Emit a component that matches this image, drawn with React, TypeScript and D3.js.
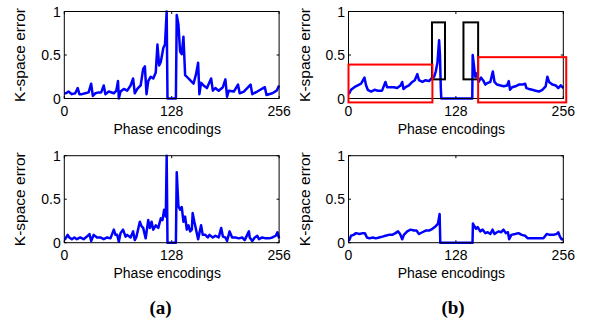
import React from 'react';
import * as d3 from 'd3';

// phase encoding positions and k-space error values
const topAX = [0, 2, 5, 9, 13, 16, 18, 21, 25, 29, 32, 34, 37, 41, 44, 47, 49, 53, 59, 62, 64, 65, 67, 71, 75, 79, 82, 84, 87, 91, 94, 96, 98, 100, 103, 106, 109, 111, 113, 115, 118, 120, 122, 123, 133, 134, 136, 138, 140, 142, 144, 146, 150, 154, 157, 159.5, 161, 163, 166, 170, 175, 177, 180, 184, 189, 192, 194, 196, 202, 207, 209, 214, 222, 224, 230, 239, 241, 248, 253, 256];
const topAY = [0.06, 0.06, 0.08, 0.05, 0.06, 0.12, 0.05, 0.05, 0.06, 0.07, 0.17, 0.03, 0.06, 0.07, 0.07, 0.15, 0.05, 0.08, 0.06, 0.09, 0.2, 0.0, 0.08, 0.11, 0.09, 0.15, 0.23, 0.06, 0.11, 0.15, 0.34, 0.37, 0.05, 0.2, 0.25, 0.23, 0.3, 0.62, 0.38, 0.42, 0.58, 0.62, 1.0, 0.0, 0.0, 0.96, 0.85, 0.54, 0.51, 0.71, 0.27, 0.25, 0.21, 0.17, 0.28, 0.41, 0.05, 0.18, 0.15, 0.12, 0.23, 0.09, 0.12, 0.09, 0.13, 0.22, 0.02, 0.09, 0.08, 0.16, 0.06, 0.08, 0.16, 0.05, 0.08, 0.13, 0.04, 0.06, 0.09, 0.15];

const botAX = [0, 1, 4, 6, 9, 12, 15, 19, 23, 27, 30, 32, 35, 39, 43, 47, 51, 55, 59, 61, 63, 65, 67, 70, 73, 75, 79, 82, 84, 86, 90, 92, 94, 97, 100, 102, 104, 106, 109, 112, 115, 117, 119, 121, 122, 123, 133, 134, 136, 138, 140, 142, 144, 146, 148, 150, 152, 153, 155, 159.5, 161, 163, 165, 168, 171, 173, 177, 180, 184, 187, 189, 192, 194, 197, 200, 204, 208, 212, 215, 220, 221, 224, 227, 230, 232, 236, 240, 244, 248, 252, 254, 256];
const botAY = [0.04, 0.04, 0.09, 0.06, 0.04, 0.06, 0.04, 0.06, 0.04, 0.07, 0.1, 0.02, 0.09, 0.06, 0.06, 0.04, 0.06, 0.05, 0.15, 0.09, 0.09, 0.01, 0.11, 0.15, 0.07, 0.09, 0.06, 0.13, 0.03, 0.07, 0.24, 0.19, 0.17, 0.05, 0.26, 0.17, 0.24, 0.15, 0.2, 0.17, 0.28, 0.26, 0.38, 0.3, 1.0, 0.0, 0.0, 0.81, 0.42, 0.38, 0.41, 0.24, 0.3, 0.15, 0.2, 0.13, 0.15, 0.34, 0.24, 0.04, 0.11, 0.2, 0.09, 0.09, 0.06, 0.09, 0.06, 0.08, 0.06, 0.17, 0.07, 0.06, 0.02, 0.13, 0.06, 0.06, 0.05, 0.06, 0.03, 0.13, 0.06, 0.02, 0.06, 0.08, 0.04, 0.06, 0.05, 0.05, 0.06, 0.08, 0.12, 0.05];

const topBX = [0, 1, 3, 7, 11, 15, 19, 21, 23, 27, 31, 35, 40, 44, 46, 50, 54, 58, 62, 64, 65.5, 68, 72, 76, 79, 82, 84, 88, 92, 96, 99, 102, 104, 106, 108, 109, 110, 110.6, 147.5, 148, 149.5, 151, 153, 155, 158, 161, 163, 166, 169, 172, 174, 177, 181, 185, 189, 191, 192.5, 195, 199, 203, 207, 210.5, 212, 215, 219, 223, 227, 231, 235, 237, 239, 243, 247, 250, 253, 256];
const topBY = [0.06, 0.06, 0.1, 0.13, 0.15, 0.17, 0.24, 0.15, 0.1, 0.08, 0.1, 0.09, 0.09, 0.19, 0.13, 0.13, 0.13, 0.12, 0.15, 0.19, 0.11, 0.13, 0.15, 0.19, 0.21, 0.28, 0.21, 0.19, 0.21, 0.2, 0.23, 0.25, 0.31, 0.41, 0.67, 0.5, 0.12, 0.0, 0.0, 0.5, 0.38, 0.25, 0.29, 0.19, 0.24, 0.2, 0.16, 0.18, 0.19, 0.31, 0.19, 0.16, 0.15, 0.14, 0.15, 0.2, 0.1, 0.13, 0.14, 0.16, 0.16, 0.17, 0.12, 0.11, 0.1, 0.09, 0.08, 0.1, 0.14, 0.25, 0.19, 0.16, 0.15, 0.12, 0.15, 0.12];

const botBX = [0, 1, 3, 6, 9, 13, 17, 19.5, 22, 25, 29, 32.5, 36.5, 40.5, 44, 48, 52, 56, 59, 61.5, 64, 66, 70, 74, 78, 81, 84, 88, 92, 96, 100, 104, 106.7, 108.6, 109.4, 147.8, 148.3, 150, 152, 154, 157, 160, 163, 166, 169, 171.7, 174, 177, 179, 182, 184.7, 187.5, 190, 191.5, 194, 198.6, 202.6, 206.5, 210.5, 213.7, 218.4, 226.4, 232.3, 236.3, 240, 244, 248, 250, 252, 254, 256];
const botBY = [0.02, 0.03, 0.08, 0.09, 0.11, 0.1, 0.11, 0.11, 0.06, 0.05, 0.06, 0.05, 0.06, 0.07, 0.08, 0.09, 0.09, 0.11, 0.13, 0.1, 0.04, 0.09, 0.13, 0.15, 0.14, 0.14, 0.1, 0.12, 0.14, 0.14, 0.16, 0.19, 0.22, 0.33, 0.0, 0.0, 0.22, 0.19, 0.16, 0.18, 0.13, 0.15, 0.11, 0.12, 0.1, 0.15, 0.1, 0.12, 0.13, 0.12, 0.15, 0.11, 0.12, 0.04, 0.09, 0.1, 0.11, 0.09, 0.08, 0.05, 0.05, 0.05, 0.05, 0.1, 0.09, 0.09, 0.1, 0.12, 0.07, 0.04, 0.04];

// highlight boxes in panel (b) top, data units: [x0, x1, y0, y1]
const blackBoxes = [[99.5, 115, 0.22, 0.875], [137, 154.5, 0.22, 0.875]];
const redBoxes = [[0, 100, -0.045, 0.39], [154.5, 259.5, -0.045, 0.475]];

const xTicks = [0, 128, 256];
const yTicks = [0, 0.5, 1];
const yTickLabels = ['0', '0.5', '1'];

const FONT = 'Arial, "Liberation Sans", Helvetica, sans-serif';
const SERIF = '"Times New Roman", "Liberation Serif", serif';

interface PanelProps {
    left: number;
    top: number;
    xs: number[];
    ys: number[];
    boxes?: boolean;
}

const W = 214.8;
const H = 87;

const Panel: React.FC<PanelProps> = ({ left, top, xs, ys, boxes }) => {
    const x = d3.scaleLinear().domain([0, 256]).range([left, left + W]);
    const y = d3.scaleLinear().domain([0, 1]).range([top + H, top]);
    const pts: [number, number][] = xs.map((d, i) => [d, ys[i]]);
    const line = d3.line<[number, number]>()
        .x(d => x(d[0]))
        .y(d => y(d[1]));

    return (
        <g>
            {/* ticks, inward like matlab */}
            {xTicks.map(t => (
                <g key={'xt' + t}>
                    <line x1={x(t)} x2={x(t)} y1={top + H} y2={top + H - 2.5} stroke="black" />
                    <line x1={x(t)} x2={x(t)} y1={top} y2={top + 2.5} stroke="black" />
                    <text x={x(t)} y={top + H + 17.5} textAnchor="middle" fontSize={14} fontFamily={FONT}>{t}</text>
                </g>
            ))}
            {yTicks.map((t, i) => (
                <g key={'yt' + t}>
                    <line x1={left} x2={left + 2.5} y1={y(t)} y2={y(t)} stroke="black" />
                    <line x1={left + W} x2={left + W - 2.5} y1={y(t)} y2={y(t)} stroke="black" />
                    <text x={left - 3.5} y={y(t) + 5} textAnchor="end" fontSize={14} fontFamily={FONT}>{yTickLabels[i]}</text>
                </g>
            ))}
            <path d={line(pts) || ''} fill="none" stroke="#0000ff" strokeWidth={2.5} strokeLinejoin="round" />
            <rect x={left} y={top} width={W} height={H} fill="none" stroke="black" strokeWidth={1} />
            {boxes && blackBoxes.map((b, i) => (
                <rect key={'bb' + i} x={x(b[0])} y={y(b[3])} width={x(b[1]) - x(b[0])} height={y(b[2]) - y(b[3])}
                    fill="none" stroke="black" strokeWidth={2} />
            ))}
            {boxes && redBoxes.map((b, i) => (
                <rect key={'rb' + i} x={x(b[0])} y={y(b[3])} width={x(b[1]) - x(b[0])} height={y(b[2]) - y(b[3])}
                    fill="none" stroke="#ff0000" strokeWidth={2} />
            ))}
            <text x={left + W / 2 - 4.5} y={top + H + 35} textAnchor="middle" fontSize={14} fontFamily={FONT}>Phase encodings</text>
            <text transform={`translate(${left - 39}, ${top + H / 2}) rotate(-90)`} textAnchor="middle" fontSize={15.5} fontFamily={FONT}>K-space error</text>
        </g>
    );
};

export default function App() {
    return (
        <svg width={590} height={320} style={{ position: 'absolute', left: 0, top: 0, background: 'white' }}>
            <rect width={590} height={320} fill="white" />
            <Panel left={64.3} top={11.5} xs={topAX} ys={topAY} />
            <Panel left={348.5} top={11.5} xs={topBX} ys={topBY} boxes />
            <Panel left={64.3} top={155.7} xs={botAX} ys={botAY} />
            <Panel left={348.5} top={155.7} xs={botBX} ys={botBY} />
            <text x={160.5} y={314} textAnchor="middle" fontSize={19} fontWeight="bold" fontFamily={SERIF}>(a)</text>
            <text x={453} y={314} textAnchor="middle" fontSize={19} fontWeight="bold" fontFamily={SERIF}>(b)</text>
        </svg>
    );
}
